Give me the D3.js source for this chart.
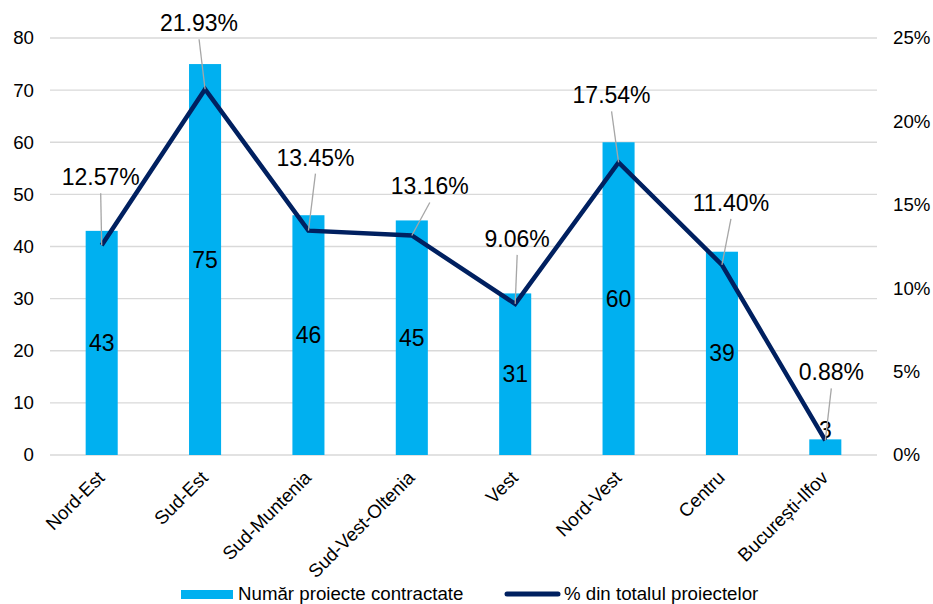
<!DOCTYPE html>
<html>
<head>
<meta charset="utf-8">
<script src="https://cdn.jsdelivr.net/npm/d3@7"></script>
<style>
  html, body { margin: 0; padding: 0; background: #fff; }
  svg { display: block; font-family: "Liberation Sans", Arial, sans-serif; }
</style>
</head>
<body>
<svg id="chart" width="933" height="604"></svg>
<script>
// ---- data ----
const categories = ["Nord-Est", "Sud-Est", "Sud-Muntenia", "Sud-Vest-Oltenia", "Vest", "Nord-Vest", "Centru", "București-Ilfov"];
const projectCounts = [43, 75, 46, 45, 31, 60, 39, 3];
const projectShares = [12.57, 21.93, 13.45, 13.16, 9.06, 17.54, 11.40, 0.88];
const leftTicks = [0, 10, 20, 30, 40, 50, 60, 70, 80];
const rightTicks = [0, 5, 10, 15, 20, 25];
const seriesNames = ["Număr proiecte contractate", "% din totalul proiectelor"];

// label placement (offset of label baseline-centre from point), layout only
const shareLabelOffsets = [[-1, -60], [-6, -58], [7, -65], [18, -41], [2, -57], [-7, -59], [9, -54], [6, -60]];

// ---- layout ----
const W = 933, H = 604;
const plot = { left: 50, right: 877, top: 38, bottom: 455 };
const barColor = "#00B0F0";
const lineColor = "#002060";
const gridColor = "#d9d9d9";
const tickFont = 18.7;

const svg = d3.select("#chart");

const x = d3.scaleBand().domain(categories).range([plot.left, plot.right]).padding(0);
const yL = d3.scaleLinear().domain([0, 80]).range([plot.bottom, plot.top]);
const yR = d3.scaleLinear().domain([0, 25]).range([plot.bottom, plot.top]);
const cx = c => x(c) + x.bandwidth() / 2;
const barW = x.bandwidth() * 0.31;

// gridlines
svg.append("g").selectAll("line").data(leftTicks).join("line")
  .attr("x1", plot.left).attr("x2", plot.right)
  .attr("y1", d => yL(d)).attr("y2", d => yL(d))
  .attr("stroke", gridColor).attr("stroke-width", 1.3);

// left axis
const axL = d3.axisLeft(yL).tickValues(leftTicks).tickSize(0).tickPadding(0);
const gL = svg.append("g").attr("transform", `translate(${plot.left - 16},0)`).call(axL);
gL.select(".domain").remove();
gL.selectAll("text").attr("font-size", tickFont).attr("fill", "#000")
  .attr("font-family", '"Liberation Sans", Arial, sans-serif');

// right axis
const axR = d3.axisRight(yR).tickValues(rightTicks).tickSize(0).tickPadding(0).tickFormat(d => d + "%");
const gR = svg.append("g").attr("transform", `translate(${plot.right + 16},0)`).call(axR);
gR.select(".domain").remove();
gR.selectAll("text").attr("font-size", tickFont).attr("fill", "#000")
  .attr("font-family", '"Liberation Sans", Arial, sans-serif');

// bars
svg.append("g").selectAll("rect").data(categories).join("rect")
  .attr("x", c => cx(c) - barW / 2)
  .attr("width", barW)
  .attr("y", (c, i) => yL(projectCounts[i]))
  .attr("height", (c, i) => yL(0) - yL(projectCounts[i]))
  .attr("fill", barColor);

// bar labels
svg.append("g").selectAll("text").data(categories).join("text")
  .attr("x", c => cx(c))
  .attr("y", (c, i) => {
    const top = yL(projectCounts[i]);
    const h = yL(0) - top;
    return h < 30 ? top - 1 : (top + yL(0)) / 2 + 8;
  })
  .attr("text-anchor", "middle")
  .attr("font-size", 23)
  .attr("fill", "#000")
  .text((c, i) => projectCounts[i]);

// line
const line = d3.line().x((d, i) => cx(categories[i])).y(d => yR(d));
svg.append("path").datum(projectShares)
  .attr("d", line)
  .attr("fill", "none")
  .attr("stroke", lineColor)
  .attr("stroke-width", 4.5)
  .attr("stroke-linejoin", "miter");

// share labels with leader lines
const labG = svg.append("g");
projectShares.forEach((v, i) => {
  const px = cx(categories[i]), py = yR(v);
  const [dx, dy] = shareLabelOffsets[i];
  const tx = px + dx, ty = py + dy;
  labG.append("line")
    .attr("x1", tx).attr("y1", ty + 8)
    .attr("x2", px).attr("y2", py)
    .attr("stroke", "#a6a6a6").attr("stroke-width", 1.3);
  labG.append("text")
    .attr("x", tx).attr("y", ty)
    .attr("text-anchor", "middle")
    .attr("font-size", 23)
    .attr("fill", "#000")
    .text(v.toFixed(2) + "%");
});

// x labels
svg.append("g").selectAll("text").data(categories).join("text")
  .attr("transform", c => `translate(${cx(c) + 4},${plot.bottom + 24}) rotate(-45)`)
  .attr("text-anchor", "end")
  .attr("font-size", tickFont)
  .attr("fill", "#000")
  .text(c => c);

// legend
const lg = svg.append("g");
lg.append("rect").attr("x", 181).attr("y", 590).attr("width", 52).attr("height", 9).attr("fill", barColor);
lg.append("text").attr("x", 238).attr("y", 600).attr("font-size", tickFont).attr("fill", "#000").text(seriesNames[0]);
lg.append("line").attr("x1", 507).attr("x2", 558).attr("y1", 594).attr("y2", 594)
  .attr("stroke", lineColor).attr("stroke-width", 5).attr("stroke-linecap", "round");
lg.append("text").attr("x", 564).attr("y", 600).attr("font-size", tickFont).attr("fill", "#000").text(seriesNames[1]);
</script>
</body>
</html>
